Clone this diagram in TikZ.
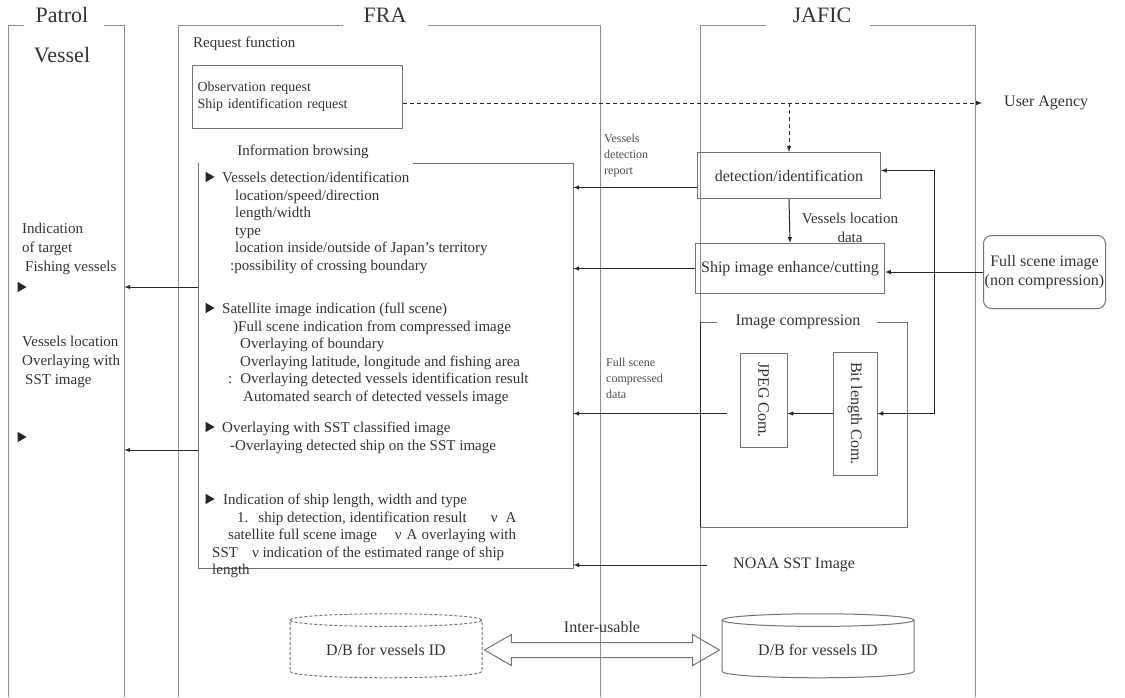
\documentclass[tikz,border=0pt]{standalone}
\usepackage{fontspec}
\setmainfont{Liberation Serif}
\usetikzlibrary{calc,positioning,shapes.geometric,shapes.arrows}

\tikzset{
  frame/.style={draw=black!45,line width=1pt},
  txt/.style={font=\fontsize{15}{17.5}\selectfont,text=black!80,inner sep=0pt},
  smalltxt/.style={font=\fontsize{12}{16}\selectfont,text=black!70,inner sep=0pt,align=left},
  boxtxt/.style={font=\fontsize{16}{19}\selectfont,text=black!80},
  title/.style={font=\fontsize{22}{24}\selectfont,text=black!80},
  block/.style={draw=black!55,line width=1pt,rectangle,inner sep=0pt,boxtxt},
  arr/.style={->,>=latex,draw=black!85,line width=1pt},
  tri/.style={isosceles triangle,isosceles triangle apex angle=60,fill=black!85,inner sep=2.4pt},
  db/.style={cylinder,shape border rotate=90,aspect=0.1,draw=black!55,line width=1pt,minimum width=192pt,minimum height=64pt,boxtxt},
}

\begin{document}
\begin{tikzpicture}[x=1pt,y=-1pt]
\useasboundingbox (0,0) rectangle (1125,697);
\fill[white] (0,0) rectangle (1125,697);

\draw node[anchor=north west,minimum width=116pt,minimum height=672pt,inner sep=0pt](patrol) at (8,25){};
\draw node[anchor=north west,minimum width=422pt,minimum height=672pt,inner sep=0pt](fra) at (178,25){};
\draw node[anchor=north west,minimum width=275pt,minimum height=672pt,inner sep=0pt](jafic) at (700,25){};

\draw[frame] ($(patrol.north west)+(16,0)$) -- (patrol.north west) -- (patrol.south west);
\draw[frame] ($(patrol.north east)-(20,0)$) -- (patrol.north east) -- (patrol.south east);
\draw node[title] at (62,15){Patrol};
\draw node[title] at (62,55){Vessel};
\draw[frame] ($(fra.north west)+(165,0)$) -- (fra.north west) -- (fra.south west);
\draw[frame] ($(fra.north east)-(172,0)$) -- (fra.north east) -- (fra.south east);
\draw node[title] at (385,15){FRA};
\draw[frame] ($(jafic.north west)+(66,0)$) -- (jafic.north west) -- (jafic.south west);
\draw[frame] ($(jafic.north east)-(105,0)$) -- (jafic.north east) -- (jafic.south east);
\draw node[title] at (822,15){JAFIC};

\draw node[txt,anchor=west](reqfn) at (193,44){Request function};
\draw node[block,anchor=north west,minimum width=210pt,minimum height=63pt,font=\fontsize{14}{17}\selectfont,align=left,text width=200pt,inner sep=5pt](obs) at (192,65){Observation request\\Ship identification request};
\draw node[txt,font=\fontsize{16}{18}\selectfont,anchor=west](user) at (1004,103){User Agency};
\draw[arr,dash pattern=on 4pt off 3pt] (obs.east |- user.west) -- ($(user.west)-(22,0)$);

\draw node[txt](ibt) at (303,152){Information browsing};
\draw node[anchor=north west,minimum width=375pt,minimum height=405pt,inner sep=0pt](info) at (198,163){};
\draw[frame,draw=black!55] ($(info.north west)+(215,0)$) -- (info.north east) -- (info.south east) -- (info.south west) -- (info.north west);

\draw node[tri](b1) at (208,177){};
\draw node[txt,anchor=north west,align=left](sec1) at (222,171.8){Vessels detection/identification\\
\hspace*{13pt}location/speed/direction\\
\hspace*{13pt}length/width\\
\hspace*{13pt}type\\
\hspace*{13pt}location inside/outside of Japan’s territory\\
\hspace*{8pt}:possibility of crossing boundary};

\draw node[tri](b2) at (208,308){};
\draw node[txt,anchor=north west,align=left](sec2) at (222,302.8){Satellite image indication (full scene)\\
\hspace*{11pt})Full scene indication from compressed image\\
\hspace*{18pt}Overlaying of boundary\\
\hspace*{18pt}Overlaying latitude, longitude and fishing area\\
\hspace*{6pt}:\hspace*{8pt}Overlaying detected vessels identification result\\
\hspace*{21pt}Automated search of detected vessels image};

\draw node[tri](b3) at (208,427){};
\draw node[txt,anchor=north west,align=left](sec3) at (222,421.8){Overlaying with SST classified image\\
\hspace*{8pt}-Overlaying detected ship on the SST image};

\draw node[tri](b4) at (208,499){};
\draw node[txt,anchor=north west,align=left](sec4) at (212,493.8){\hspace*{11pt}Indication of ship length, width and type\\
\hspace*{25pt}1.\hspace*{10pt}ship detection, identification result\hspace*{24pt}ν\hspace*{8pt}A\\
\hspace*{16pt}satellite full scene image\hspace*{18pt}ν\hspace*{5pt}A\hspace*{4pt}overlaying with\\
SST\hspace*{14pt}ν indication of the estimated range of ship\\
length};

\draw node[txt,anchor=west,align=left,font=\fontsize{15}{19}\selectfont](ptxt1) at (22,249){Indication\\of target\\\hspace*{3pt}Fishing vessels};
\draw node[tri](pt1) at (20,287){};
\draw node[txt,anchor=west,align=left,font=\fontsize{15}{19}\selectfont](ptxt2) at (22,362){Vessels location\\Overlaying with\\\hspace*{3pt}SST image};
\draw node[tri](pt2) at (20,437){};
\draw[arr] (info.west |- pt1) -- (patrol.east |- pt1);
\draw[arr] ($(info.west |- pt2)+(0,13)$) -- ($(patrol.east |- pt2)+(0,13)$);

\draw node[block,anchor=north west,minimum width=183pt,minimum height=46pt](det) at (697,152){detection/identification};
\draw node[block,anchor=north west,minimum width=189pt,minimum height=50pt](ship) at (695,243){Ship image enhance/cutting};
\draw node[block,rounded corners=8pt,anchor=north west,minimum width=122pt,minimum height=73pt,align=center](full) at (983,235){Full scene image\\(non compression)};
\draw[arr,dash pattern=on 4pt off 3pt] (det.north |- user.west) -- (det.north);
\draw node[smalltxt,anchor=west](vdr) at (604,156){Vessels\\detection\\report};
\draw[arr] ($(det.west)+(0,12)$) -- ($(det.west -| info.east)+(0,12)$);
\draw[arr] (det.south) -- (ship.north);
\draw node[txt,align=center,font=\fontsize{15}{19}\selectfont](vld) at (850,228){Vessels location\\data};
\draw[arr] (ship.west) -- (ship.west -| info.east);

\draw node[anchor=north west,minimum width=207pt,minimum height=205pt,inner sep=0pt](imgc) at (700,322){};
\draw[frame,draw=black!55] ($(imgc.north west)+(17,0)$) -- (imgc.north west) -- (imgc.south west) -- (imgc.south east) -- (imgc.north east) -- ($(imgc.north east)-(30,0)$);
\draw[draw=black!85,line width=1pt] (imgc.north west) -- (imgc.south west);
\draw node[txt,font=\fontsize{16}{18}\selectfont](imgct) at ($(imgc.north west)+(98,0)$){Image compression};
\draw node[block,minimum width=47pt,minimum height=94pt,label={[boxtxt,rotate=-90]center:JPEG Com.}](jpeg) at (763.5,400){};
\draw node[block,minimum width=44pt,minimum height=123pt,label={[boxtxt,rotate=-90]center:Bit length Com.}](bitlen) at (855,413.5){};

\coordinate (split) at ($(ship.east)!0.5!(full.west)$);
\draw[arr] (full.west) -- (full.west -| ship.east);
\draw[arr] (split) |- ($(det.east)-(0,5)$);
\draw[arr] (split) |- (bitlen.east);
\draw[arr] (bitlen.west) -- (bitlen.west -| jpeg.east);
\draw[arr] ($(bitlen.west -| jpeg.west)-(13,0)$) -- (bitlen.west -| info.east);
\draw node[smalltxt,anchor=west](fscd) at (606,378){Full scene\\compressed\\data};

\draw node[txt,font=\fontsize{16}{18}\selectfont,anchor=west](noaa) at (733,565){NOAA SST Image};
\draw[arr] ($(noaa.west)-(26,0)$) -- (noaa.west -| info.east);

\draw node[db,densely dashed](dbl) at (386,650){D/B for vessels ID};
\draw node[db](dbr) at (818,650){D/B for vessels ID};
\draw node[double arrow,draw=black!55,line width=1pt,minimum height=235pt,inner xsep=0pt,inner ysep=7pt,double arrow head extend=8pt,double arrow tip angle=60](inter) at ($(dbl.east)!0.5!(dbr.west)$){};
\draw node[boxtxt,above=6pt of inter](intertxt){Inter-usable};

\end{tikzpicture}
\end{document}
